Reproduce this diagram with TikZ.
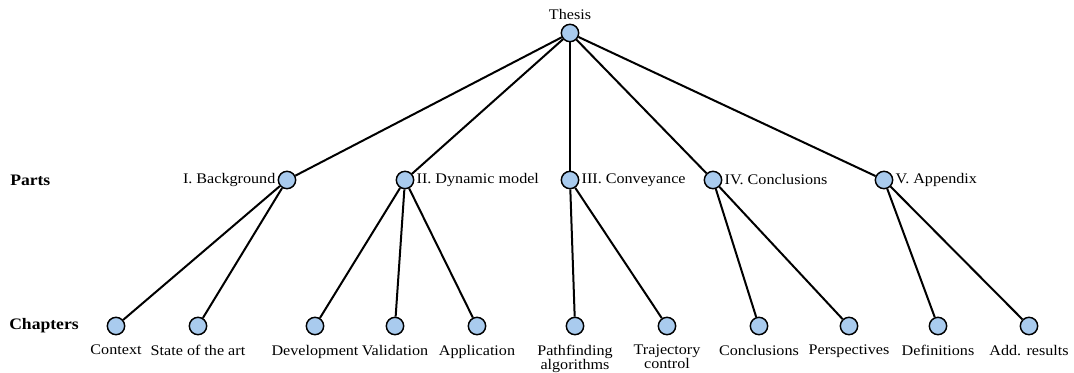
\documentclass[tikz,border=0pt]{standalone}
\usepackage{fontspec}
\setmainfont{Liberation Serif}[FakeStretch=1.1]
\definecolor{nodeblue}{HTML}{A9CBEE}
\tikzset{
  dot/.style={circle,draw=black,line width=1.1pt,fill=nodeblue,minimum size=13pt,inner sep=0pt},
  edge/.style={line width=1.5pt},
  lbl/.style={font=\fontsize{11}{10.5}\selectfont,inner sep=1.5pt},
  rowtitle/.style={font=\fontsize{12}{13}\selectfont\bfseries},
}
\begin{document}
\begin{tikzpicture}[x=0.75pt,y=-0.75pt]
\useasboundingbox (0,0) rectangle (1074,372);
% root
\node[dot,label={[lbl,label distance=1pt]above:Thesis}] (thesis) at (570,33) {};
% parts
\node[dot,label={[lbl]left:I. Background}] (p1) at (287,180) {};
\node[dot,label={[lbl]right:II. Dynamic model}] (p2) at (405,180) {};
\node[dot,label={[lbl]right:III. Conveyance}] (p3) at (570,180) {};
\node[dot,label={[lbl]right:IV. Conclusions}] (p4) at (713,180) {};
\node[dot,label={[lbl]right:V. Appendix}] (p5) at (884,180) {};
% chapters
\tikzset{below label/.style={label={[lbl,label distance=5.5pt,align=center]below:#1}}}
\node[dot,below label=Context] (c1) at (116,326) {};
\node[dot,below label=State of the art] (c2) at (198,326) {};
\node[dot,below label=Development] (c3) at (315,326) {};
\node[dot,below label=Validation] (c4) at (395,326) {};
\node[dot,below label=Application] (c5) at (477,326) {};
\node[dot,below label={Pathfinding\\algorithms}] (c6) at (575,326) {};
\node[dot,below label={Trajectory\\control}] (c7) at (667,326) {};
\node[dot,below label=Conclusions] (c8) at (759,326) {};
\node[dot,below label=Perspectives] (c9) at (849,326) {};
\node[dot,below label=Definitions] (c10) at (938,326) {};
\node[dot,below label=Add. results] (c11) at (1029,326) {};
% row titles
\node[rowtitle,anchor=west,inner sep=0pt] (parts) at (10,180) {Parts};
\node[rowtitle,anchor=west,inner sep=0pt] (chapters) at (9,326) {Chapters};
% edges
\foreach \p in {p1,p2,p3,p4,p5} \draw[edge] (thesis) -- (\p);
\draw[edge] (p1) -- (c1);
\draw[edge] (p1) -- (c2);
\draw[edge] (p2) -- (c3);
\draw[edge] (p2) -- (c4);
\draw[edge] (p2) -- (c5);
\draw[edge] (p3) -- (c6);
\draw[edge] (p3) -- (c7);
\draw[edge] (p4) -- (c8);
\draw[edge] (p4) -- (c9);
\draw[edge] (p5) -- (c10);
\draw[edge] (p5) -- (c11);
\end{tikzpicture}
\end{document}
